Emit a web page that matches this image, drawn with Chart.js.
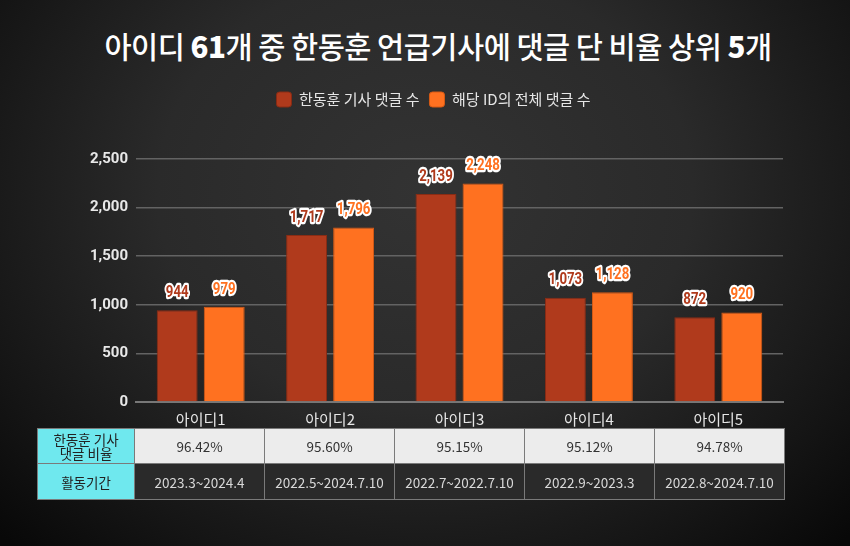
<!DOCTYPE html>
<html>
<head>
<meta charset="utf-8">
<script src="https://cdn.jsdelivr.net/npm/chart.js@4.4.1/dist/chart.umd.min.js"></script>
<style>
  html, body { margin: 0; padding: 0; }
  body {
    width: 850px; height: 546px; overflow: hidden; position: relative;
    background: radial-gradient(ellipse 70% 90% at 50% 35%, #333333 0%, #2a2a2a 45%, #151515 80%, #080808 100%);
    font-family: 'Noto Sans CJK KR', sans-serif;
  }
  #titulo {
    position: absolute; left: 13px; top: 24px; width: 850px; text-align: center;
    color: #fff; font-size: 29.5px; font-weight: 500; letter-spacing: -0.5px;
  }
  #titulo b { font-weight: 900; }
  #grafico { position: absolute; left: 0; top: 0; }
  #tabela {
    position: absolute; left: 37px; top: 428px; border-collapse: collapse;
    font-size: 13.5px;
  }
  #tabela td { border: 1px solid #7a7a7a; text-align: center; padding: 0; }
  #tabela td.cab { background: #6fe8ee; color: #222; width: 96px; line-height: 14px; }
  #tabela tr.r1 td { height: 34px; }
  #tabela tr.r2 td { height: 35px; }
  #tabela tr.r1 td.v { background: #ececec; color: #333; width: 129px; }
  #tabela tr.r2 td.v { background: #2a2a2a; color: #d8d8d8; }
</style>
</head>
<body>
<div id="titulo">아이디 <b>61</b>개 중 한동훈 언급기사에 댓글 단 비율 상위 <b>5</b>개</div>
<canvas id="grafico" width="850" height="546"></canvas>
<table id="tabela"></table>
<script>
  // categorias e valores
  var ids = ['아이디1', '아이디2', '아이디3', '아이디4', '아이디5'];
  var comentarios_hdh = [944, 1717, 2139, 1073, 872];
  var comentarios_total = [979, 1796, 2248, 1128, 920];
  var ticks_y = [0, 500, 1000, 1500, 2000, 2500];

  // dados da tabela
  var rotulos_tabela = ['한동훈 기사<br>댓글 비율', '활동기간'];
  var percentuais = ['96.42%', '95.60%', '95.15%', '95.12%', '94.78%'];
  var periodos = ['2023.3~2024.4', '2022.5~2024.7.10', '2022.7~2022.7.10', '2022.9~2023.3', '2022.8~2024.7.10'];

  var cor_hdh = '#b03a1c';
  var cor_total = '#ff7120';

  // montando a tabela
  var tabela = document.getElementById('tabela');
  var html = '<tr class="r1"><td class="cab">' + rotulos_tabela[0] + '</td>';
  percentuais.forEach(function (p) { html += '<td class="v">' + p + '</td>'; });
  html += '</tr><tr class="r2"><td class="cab">' + rotulos_tabela[1] + '</td>';
  periodos.forEach(function (p) { html += '<td class="v">' + p + '</td>'; });
  html += '</tr>';
  tabela.innerHTML = html;

  // espaço extra embaixo da legenda e legenda um pouco para a direita
  const espacoLegenda = {
    id: 'espacoLegenda',
    beforeInit(chart) {
      const fitOriginal = chart.legend.fit;
      chart.legend.fit = function () {
        fitOriginal.bind(chart.legend)();
        this.height += 42;
      };
    },
    afterLayout(chart) {
      chart.legend.left += 42;
      chart.legend.right += 42;
    }
  };

  // rótulos com contorno branco em cima das barras (fonte "apertada")
  const rotulos = {
    id: 'rotulos',
    afterDatasetsDraw(chart) {
      const ctx = chart.ctx;
      chart.data.datasets.forEach((ds, i) => {
        chart.getDatasetMeta(i).data.forEach((bar, j) => {
          const txt = ds.data[j].toLocaleString('en-US');
          ctx.save();
          ctx.translate(bar.x, bar.y - 9);
          ctx.scale(0.78, 1);
          ctx.font = "bold 17px 'Roboto', sans-serif";
          ctx.textAlign = 'center';
          ctx.textBaseline = 'bottom';
          ctx.lineJoin = 'round';
          ctx.lineWidth = 4.5;
          ctx.strokeStyle = '#ffffff';
          ctx.strokeText(txt, 0, 0);
          ctx.fillStyle = ds.backgroundColor;
          ctx.fillText(txt, 0, 0);
          ctx.restore();
        });
      });
    }
  };

  const grafico = document.getElementById('grafico');

  new Chart(grafico, {
    type: 'bar',
    data: {
      labels: ids,
      datasets: [{
        label: '한동훈 기사 댓글 수',
        data: comentarios_hdh,
        backgroundColor: cor_hdh,
        borderColor: '#8a2c14',
        borderWidth: 1
      }, {
        label: '해당 ID의 전체 댓글 수',
        data: comentarios_total,
        backgroundColor: cor_total,
        borderColor: '#d85a14',
        borderWidth: 1
      }]
    },
    options: {
      responsive: false,
      animation: false,
      layout: { padding: { top: 82, right: 67, bottom: 118, left: 0 } },
      datasets: { bar: { categoryPercentage: 0.727, barPercentage: 0.87 } },
      plugins: {
        legend: {
          labels: {
            color: '#e6e6e6',
            font: { family: "'Noto Sans CJK KR', sans-serif", size: 15 },
            boxWidth: 15, boxHeight: 15, useBorderRadius: true, borderRadius: 3,
            padding: 10
          }
        },
        tooltip: { enabled: false }
      },
      scales: {
        x: {
          grid: { display: false },
          border: { color: '#777', width: 2 },
          ticks: { color: '#e6e6e6', font: { family: "'Noto Sans CJK KR', sans-serif", size: 15 }, padding: 0 }
        },
        y: {
          min: 0, max: 2500,
          afterBuildTicks: (s) => { s.ticks = ticks_y.map(v => ({ value: v })); },
          afterFit: (s) => { s.width = 136; },
          grid: { color: '#636363', lineWidth: 1.5, drawTicks: false },
          border: { display: false },
          ticks: {
            color: '#e8e8e8', padding: 8,
            font: { family: "'Roboto', sans-serif", size: 15, weight: 'bold' },
            callback: (v) => v.toLocaleString('en-US')
          }
        }
      }
    },
    plugins: [espacoLegenda, rotulos]
  });
</script>
</body>
</html>
